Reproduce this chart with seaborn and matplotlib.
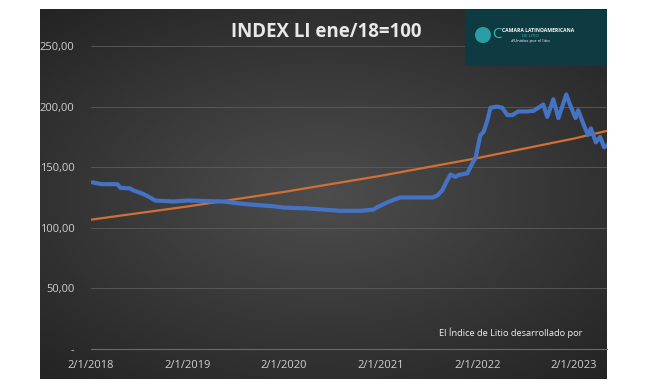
import numpy as np
import pandas as pd
import matplotlib
matplotlib.use("Agg")
import matplotlib.pyplot as plt
from matplotlib.patches import Rectangle, Ellipse
import seaborn as sns

# Index values
dates = ["2018-01-08", "2018-02-10", "2018-04-12", "2018-04-23", "2018-05-30", "2018-06-10",
         "2018-07-18", "2018-08-14", "2018-09-02", "2018-11-08", "2019-01-02", "2019-05-17",
         "2019-07-20", "2019-09-08", "2019-11-23", "2020-01-02", "2020-03-30", "2020-08-02",
         "2020-10-17", "2020-12-05", "2020-12-20", "2021-01-27", "2021-02-19", "2021-03-18",
         "2021-07-17", "2021-08-05", "2021-08-23", "2021-09-10", "2021-09-23", "2021-10-12",
         "2021-10-23", "2021-11-26", "2021-12-07", "2021-12-27", "2022-01-14", "2022-01-26",
         "2022-02-10", "2022-02-21", "2022-03-18", "2022-04-07", "2022-04-26", "2022-05-15",
         "2022-06-06", "2022-07-10", "2022-08-03", "2022-08-21", "2022-09-09", "2022-09-24",
         "2022-10-17", "2022-11-05", "2022-12-05", "2022-12-20", "2023-01-09", "2023-01-19",
         "2023-02-07", "2023-02-25", "2023-03-08", "2023-03-27", "2023-04-12", "2023-04-27",
         "2023-05-06"]
index_li = [137.5, 136, 136, 133, 132.5, 131,
            128, 125, 122.5, 121.7, 122.5, 121.7,
            120, 119, 117.8, 116.7, 116, 114,
            114, 115, 117, 121, 123, 125,
            125, 126.7, 131, 139, 144, 142,
            143.5, 145, 150, 158, 176.5, 179,
            189, 199, 200, 199, 193, 193,
            196, 196, 196.5, 199, 201.7, 191.5,
            206, 190.5, 210, 201, 190.5, 197,
            186, 176.5, 182, 170.5, 175, 166.5,
            168]

# Trend line values
trend_dates = ["2018-01-02", "2019-01-02", "2020-01-02", "2021-01-02",
               "2022-01-02", "2023-01-02", "2023-05-08"]
trend_vals = [106.7, 117.6, 129.6, 142.9, 157.5, 173.6, 180.0]

tick_dates = ["2018-01-02", "2019-01-02", "2020-01-02", "2021-01-02", "2022-01-02", "2023-01-02"]
tick_labels = ["2/1/2018", "2/1/2019", "2/1/2020", "2/1/2021", "2/1/2022", "2/1/2023"]
y_ticks = [0, 50, 100, 150, 200, 250]
y_labels = ["-", "50,00", "100,00", "150,00", "200,00", "250,00"]

df = pd.DataFrame({"fecha": pd.to_datetime(dates), "valor": index_li})
tr = pd.DataFrame({"fecha": pd.to_datetime(trend_dates), "valor": trend_vals})

sns.set_style("dark")
plt.rcParams["font.family"] = ["Open Sans", "DejaVu Sans"]

W, H = 648, 387
fig = plt.figure(figsize=(W / 100, H / 100), dpi=100, facecolor="white")

# dark radial gradient panel
bg = fig.add_axes([40 / W, (H - 379) / H, (607 - 40) / W, (379 - 9) / H])
yy, xx = np.mgrid[-1:1:200j, -1:1:300j]
r = np.sqrt((xx * 0.9) ** 2 + (yy * 1.0) ** 2)
grad = np.clip(1 - r / 1.4, 0, 1)
bg.imshow(grad, cmap=matplotlib.colors.LinearSegmentedColormap.from_list("g", ["#222222", "#4d4d4d"]),
          aspect="auto", extent=[0, 1, 0, 1], vmin=0, vmax=1)
bg.set_axis_off()

ax = fig.add_axes([91 / W, (H - 349) / H, (607 - 91) / W, (349 - 46) / H])
ax.patch.set_alpha(0)
sns.lineplot(data=tr, x="fecha", y="valor", ax=ax, color="#D36F30", linewidth=1.6)
sns.lineplot(data=df, x="fecha", y="valor", ax=ax, color="#4472C4", linewidth=3)

ax.set_xlim(pd.Timestamp("2018-01-02"), pd.Timestamp("2023-05-08"))
ax.set_ylim(0, 250)
ax.set_yticks(y_ticks)
ax.set_yticklabels(y_labels)
ax.set_xticks(pd.to_datetime(tick_dates))
ax.set_xticklabels(tick_labels)
ax.set_xlabel("")
ax.set_ylabel("")
ax.grid(axis="y", color="#5c5c5c", linewidth=0.6)
ax.grid(axis="x", visible=False)
for s in ["top", "right", "left"]:
    ax.spines[s].set_visible(False)
ax.spines["bottom"].set_color("#6a6a6a")
ax.spines["bottom"].set_linewidth(0.8)
ax.tick_params(axis="y", colors="#d0d0d0", labelsize=8, length=0, pad=12)
ax.tick_params(axis="x", colors="#d0d0d0", labelsize=8, length=4, width=0.6, direction="out", pad=4)
ax.tick_params(axis="x", color="#6a6a6a")

fig.text(326 / W, 1 - 32 / H, "INDEX LI ene/18=100", ha="center", va="center",
         fontsize=13.5, fontweight="bold", color="#e8e8e8")
fig.text(582 / W, 1 - 333 / H, "El Índice de Litio desarrollado por", ha="right", va="center",
         fontsize=6.7, color="#f0f0f0")

# logo box
fig.patches.append(Rectangle((465 / W, 1 - 66 / H), (607 - 465) / W, (66 - 10) / H,
                             transform=fig.transFigure, facecolor="#0e3a42", edgecolor="none"))
fig.patches.append(Ellipse((483 / W, 1 - 35 / H), 16 / W, 16 / H, transform=fig.transFigure,
                           facecolor="#2a9fa3", edgecolor="none"))
fig.text(492 / W, 1 - 35 / H, "C", ha="left", va="center", fontsize=11, color="#3fb5b8")
fig.text(502 / W, 1 - 31 / H, "CAMARA LATINOAMERICANA", ha="left", va="center",
         fontsize=3.6, color="white", fontweight="bold")
fig.text(530 / W, 1 - 36 / H, "DE LITIO", ha="center", va="center", fontsize=3.2, color="#3fb5b8")
fig.text(530 / W, 1 - 41 / H, "#Unidos por el litio", ha="center", va="center", fontsize=3.2, color="white")

fig.savefig("out.png", dpi=100, facecolor="white")
